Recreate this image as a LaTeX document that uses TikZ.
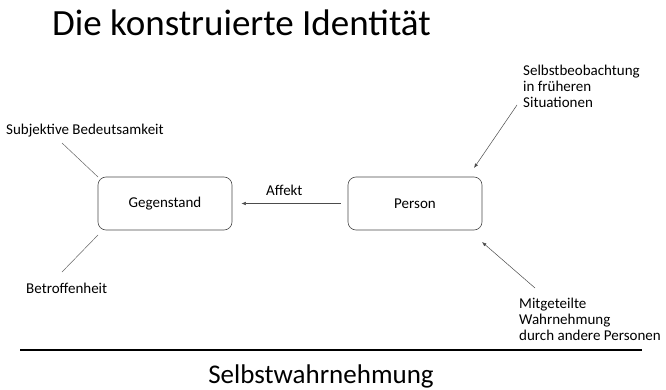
\documentclass[tikz,border=0pt]{standalone}
\usepackage{fontspec}
\setmainfont{Carlito}
\usetikzlibrary{arrows.meta}
\begin{document}
\begin{tikzpicture}[x=1pt,y=-1pt,
  box/.style={draw=black!70,line width=0.6pt,rounded corners=8pt,minimum width=134pt,minimum height=53pt,inner sep=0pt,font=\fontsize{15}{16}\selectfont},
  lbl/.style={anchor=base west,inner sep=0pt,align=left,font=\fontsize{15}{16}\selectfont},
  conn/.style={draw=black!60,line width=0.5pt},
  arr/.style={draw=black!70,line width=0.5pt,-{Latex[length=4.5pt,width=3.5pt]}}]
\useasboundingbox (0,0) rectangle (666,390);
\fill[white] (0,0) rectangle (666,390);
% title
\node[anchor=base west,inner sep=0pt,font=\fontsize{37}{40}\selectfont] (title) at (52,36) {Die konstruierte Identität};
% boxes
\node[box] (geg) at (165,203.5) {Gegenstand};
\node[box] (per) at (415,203.5) {Person};
% Affekt
\draw[arr,shorten <=7pt,shorten >=9pt] (per.west) -- (geg.east);
\node[lbl] (aff) at (266,196) {Affekt};
% left labels
\node[lbl] (subj) at (6,135) {Subjektive Bedeutsamkeit};
\node[lbl] (betr) at (26,293) {Betroffenheit};
\coordinate (s1) at (62,143);
\coordinate (s2) at (98,177);
\coordinate (b1) at (98,235);
\coordinate (b2) at (62,272);
\draw[conn] (s1) -- (s2);
\draw[conn] (b1) -- (b2);
% right labels (base = baseline of last line)
\node[lbl] (selb) at (523,108) {Selbstbeobachtung\\in früheren\\Situationen};
\node[lbl] (mitg) at (519,340) {Mitgeteilte\\Wahrnehmung\\durch andere Personen};
\coordinate (t1) at (517,105);
\coordinate (t2) at (474,168);
\coordinate (u1) at (535,288);
\coordinate (u2) at (482,242);
\draw[arr] (t1) -- (t2);
\draw[arr] (u1) -- (u2);
% rule
\coordinate (r1) at (20,350);
\coordinate (r2) at (642,350);
\draw[line width=2pt] (r1) -- (r2);
\node[anchor=base,inner sep=0pt,font=\fontsize{27}{30}\selectfont] (sw) at (321,383) {Selbstwahrnehmung};
\end{tikzpicture}
\end{document}
